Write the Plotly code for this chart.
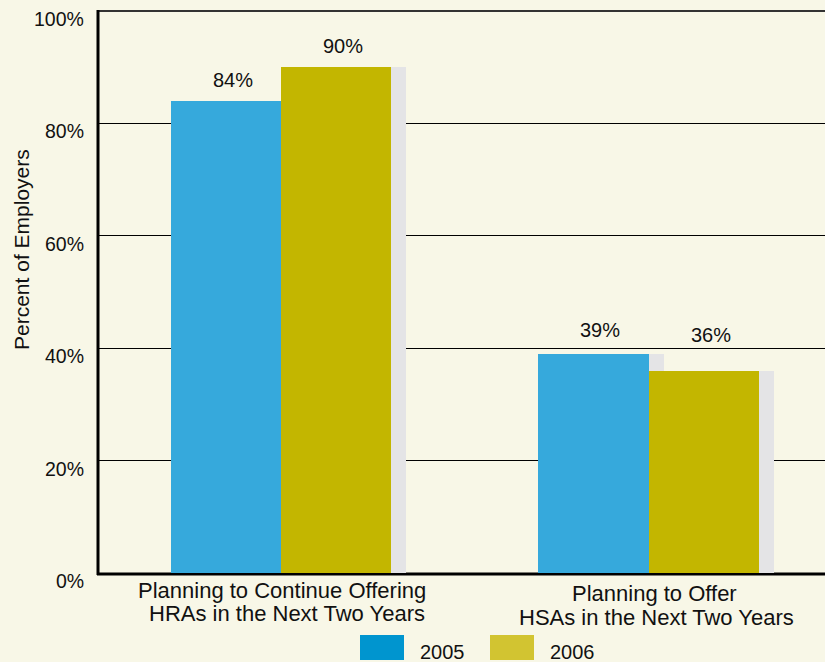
import plotly.graph_objects as go

# ---- data ----
categories = [
    ["Planning to Continue Offering", "HRAs in the Next Two Years"],
    ["Planning to Offer", "HSAs in the Next Two Years"],
]
series_names = ["2005", "2006"]
values_2005 = [84, 39]
values_2006 = [90, 36]
y_ticks = [0, 20, 40, 60, 80, 100]
y_tick_labels = ["0%", "20%", "40%", "60%", "80%", "100%"]
y_title = "Percent of Employers"

# ---- style ----
BG = "#f8f7e7"
BAR_COLORS = ["#36a9dc", "#c3b600"]
LEGEND_COLORS = ["#0095cf", "#d2c431"]
SHADOW = "#e4e4e6"
FONT = "Liberation Sans, Arial, sans-serif"

W, H = 825, 662
L, R, T, B = 97, 0, 11, 89
PW, PH = W - L - R, H - T - B


def px_x(px):
    return (px - L) / PW


def px_y(py):
    return (H - B - py) / PH


xpos = list(range(len(categories)))
bar_w = 0.3
shadow_dx = 0.041
offsets = [-bar_w, 0.0]
label_yshift = [[21, 24], [21, 36]]

fig = go.Figure()
all_vals = [values_2005, values_2006]

# shadows
for s, vals in enumerate(all_vals):
    fig.add_trace(go.Bar(
        x=xpos, y=vals, width=[bar_w] * len(vals),
        offset=[offsets[s] + shadow_dx] * len(vals),
        marker=dict(color=SHADOW, line=dict(width=0)),
        showlegend=False, hoverinfo="skip",
    ))
# bars
for s, vals in enumerate(all_vals):
    fig.add_trace(go.Bar(
        x=xpos, y=vals, width=[bar_w] * len(vals),
        offset=[offsets[s]] * len(vals), name=series_names[s],
        marker=dict(color=BAR_COLORS[s], line=dict(width=0)),
        showlegend=False,
    ))

annotations = []
# value labels
for s, vals in enumerate(all_vals):
    for i, v in enumerate(vals):
        annotations.append(dict(
            x=xpos[i] + offsets[s] + bar_w / 2, y=v, xref="x", yref="y",
            text=f"{v}%", showarrow=False, xshift=7, yshift=label_yshift[s][i],
            xanchor="center", yanchor="middle",
            font=dict(family=FONT, size=20, color="#111"),
        ))

# y tick labels
for t, lab in zip(y_ticks, y_tick_labels):
    annotations.append(dict(
        x=px_x(86), y=t, xref="paper", yref="y", text=lab, showarrow=False,
        xanchor="right", yanchor="middle", yshift=-8,
        font=dict(family=FONT, size=19.5, color="#111"),
    ))

# y title
annotations.append(dict(
    x=px_x(21), y=px_y(250), xref="paper", yref="paper", text=y_title,
    textangle=-90, showarrow=False, xanchor="center", yanchor="middle",
    font=dict(family=FONT, size=21, color="#111"),
))

# category labels
cat_line_px = [[(282, 590), (287, 613.5)], [(654.5, 593), (656, 617)]]
for i, lines in enumerate(categories):
    for j, line in enumerate(lines):
        cx, cy = cat_line_px[i][j]
        annotations.append(dict(
            x=px_x(cx), y=px_y(cy), xref="paper", yref="paper", text=line,
            showarrow=False, xanchor="center", yanchor="middle",
            font=dict(family=FONT, size=22, color="#111"),
        ))

# legend
shapes = []
legend_px = [(360, 418), (490, 548)]
for s, name in enumerate(series_names):
    sx, tx = legend_px[s]
    shapes.append(dict(type="rect", xref="paper", yref="paper",
                       x0=px_x(sx), x1=px_x(sx + 44), y0=px_y(660), y1=px_y(635),
                       fillcolor=LEGEND_COLORS[s], line=dict(width=0)))
    annotations.append(dict(
        x=px_x(tx), y=px_y(652), xref="paper", yref="paper", text=name,
        showarrow=False, xanchor="left", yanchor="middle",
        font=dict(family=FONT, size=20, color="#111"),
    ))

# frame lines
shapes.append(dict(type="line", xref="paper", yref="paper",
                   x0=px_x(97), x1=1, y0=px_y(574), y1=px_y(574),
                   line=dict(color="#000", width=3), layer="below"))
shapes.append(dict(type="line", xref="paper", yref="paper",
                   x0=px_x(97), x1=1, y0=1, y1=1,
                   line=dict(color="#333", width=2), layer="below"))
shapes.append(dict(type="line", xref="paper", yref="paper",
                   x0=px_x(98), x1=px_x(98), y0=px_y(575), y1=px_y(10),
                   line=dict(color="#000", width=3), layer="above"))

fig.update_layout(
    width=W, height=H,
    margin=dict(l=L, r=R, t=T, b=B),
    paper_bgcolor=BG, plot_bgcolor=BG,
    barmode="overlay", bargap=0,
    xaxis=dict(range=[-0.5, 1.48], showticklabels=False, showgrid=False,
               zeroline=False, showline=False, ticks=""),
    yaxis=dict(range=[0, 100], tickvals=[20, 40, 60, 80], showticklabels=False,
               showgrid=True, gridcolor="#000", gridwidth=1, zeroline=False,
               showline=False, ticks=""),
    annotations=annotations, shapes=shapes, showlegend=False,
)

fig.write_html(
    "out.html",
    config={"displayModeBar": False},
    post_script="document.body.style.margin='0';document.body.style.overflow='hidden';",
)
